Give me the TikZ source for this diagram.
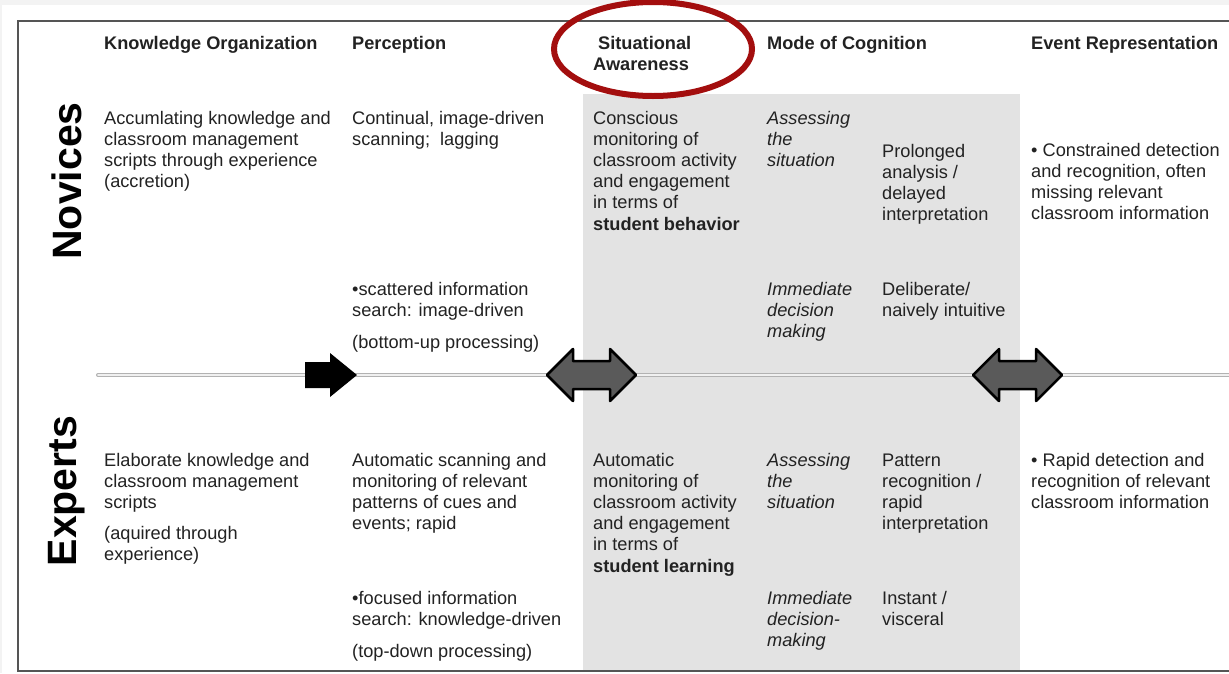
\documentclass[tikz,border=0pt]{standalone}
\usepackage{fontspec}
\setmainfont{Liberation Sans}
\definecolor{txt}{HTML}{222222}
\definecolor{colgray}{HTML}{E3E3E3}
\definecolor{margin}{HTML}{F3F3F3}
\definecolor{framec}{HTML}{555555}
\definecolor{ellred}{HTML}{A30E0E}
\definecolor{arrowgray}{HTML}{5A5A5A}
\newcommand\cellt[1]{\begin{tabular}[t]{@{}l@{}}#1\end{tabular}}
\tikzset{
  body/.style={anchor=base west, inner sep=0pt, font=\fontsize{18.2}{21.2}\selectfont, text=txt},
  head/.style={anchor=base west, inner sep=0pt, font=\fontsize{18.2}{21.2}\selectfont\bfseries, text=txt},
  ital/.style={anchor=base west, inner sep=0pt, font=\fontsize{18.2}{21.2}\selectfont\itshape, text=txt},
  side/.style={anchor=base, rotate=90, inner sep=0pt, font=\fontsize{41}{48}\selectfont\bfseries, text=black},
  dblarrow/.style={fill=arrowgray, draw=black, line width=2.5pt, line join=round},
}
\begin{document}
\begin{tikzpicture}[x=1pt, y=-1pt]
\useasboundingbox (0,0) rectangle (1229,673);
% background
\fill[margin] (0,0) rectangle (1229,673);
\fill[white] (2,5) rectangle (1229,673);
% shaded column
\fill[colgray] (583,94) rectangle (1020,670);
% frame
\draw[framec, line width=1.6pt] (1229,21) -- (18,21) -- (18,671) -- (1229,671);
% horizontal divider
\draw[gray!60, line width=4pt, line cap=round] (98,375) -- (1232,375);
\draw[gray!12, line width=1.6pt, line cap=round] (98,375) -- (1232,375);
% arrows
\fill[black] (305,362) -- (330,362) -- (330,353) -- (357,375) -- (330,397) -- (330,388) -- (305,388) -- cycle;
\draw[dblarrow] (547,375) -- (573,349) -- (573,361) -- (610,361) -- (610,349) -- (636,375) -- (610,401) -- (610,389) -- (573,389) -- (573,401) -- cycle;
\draw[dblarrow] (973,375) -- (999,349) -- (999,361) -- (1036,361) -- (1036,349) -- (1062,375) -- (1036,401) -- (1036,389) -- (999,389) -- (999,401) -- cycle;
% side labels
\node[side] (nov) at (81,181) {Novices};
\node[side] (exp) at (76,491) {Experts};
% headers
\node[head] (hko) at (104,49) {Knowledge Organization};
\node[head] (hpe) at (352,49) {Perception};
\node[head] (hsa) at (593,49) {\cellt{\hspace{5pt}Situational\\Awareness}};
\node[head] (hmc) at (767,49) {Mode of Cognition};
\node[head] (her) at (1031,49) {Event Representation};
% novices, upper
\node[body] (n1) at (104,124) {\cellt{Accumlating knowledge and\\classroom management\\scripts through experience\\(accretion)}};
\node[body] (n2) at (352,124) {\cellt{Continual, image-driven\\scanning;\ \ lagging}};
\node[body] (n3) at (593,124) {\cellt{Conscious\\monitoring of\\classroom activity\\and engagement\\in terms of\\\textbf{student behavior}}};
\node[ital] (n4) at (767,124) {\cellt{Assessing\\the\\situation}};
\node[body] (n5) at (882,157) {\cellt{Prolonged\\analysis /\\delayed\\interpretation}};
\node[body] (n6) at (1031,156) {\cellt{• Constrained detection\\and recognition, often\\missing relevant\\classroom information}};
% novices, lower
\node[body] (n7) at (352,295) {\cellt{•scattered information\\search: image-driven\\[11pt](bottom-up processing)}};
\node[ital] (n8) at (767,295) {\cellt{Immediate\\decision\\making}};
\node[body] (n9) at (882,295) {\cellt{Deliberate/\\naively intuitive}};
% experts, upper
\node[body] (e1) at (104,466) {\cellt{Elaborate knowledge and\\classroom management\\scripts\\[10pt](aquired through\\experience)}};
\node[body] (e2) at (352,466) {\cellt{Automatic scanning and\\monitoring of relevant\\patterns of cues and\\events; rapid}};
\node[body] (e3) at (593,466) {\cellt{Automatic\\monitoring of\\classroom activity\\and engagement\\in terms of\\\textbf{student learning}}};
\node[ital] (e4) at (767,466) {\cellt{Assessing\\the\\situation}};
\node[body] (e5) at (882,466) {\cellt{Pattern\\recognition /\\rapid\\interpretation}};
\node[body] (e6) at (1031,466) {\cellt{• Rapid detection and\\recognition of relevant\\classroom information}};
% experts, lower
\node[body] (e7) at (352,604) {\cellt{•focused information\\search: knowledge-driven\\[11pt](top-down processing)}};
\node[ital] (e8) at (767,604) {\cellt{Immediate\\decision-\\making}};
\node[body] (e9) at (882,604) {\cellt{Instant /\\visceral}};
% highlight ellipse
\draw[ellred, line width=6pt] (653,49) ellipse [x radius=99, y radius=47];
\end{tikzpicture}
\end{document}
